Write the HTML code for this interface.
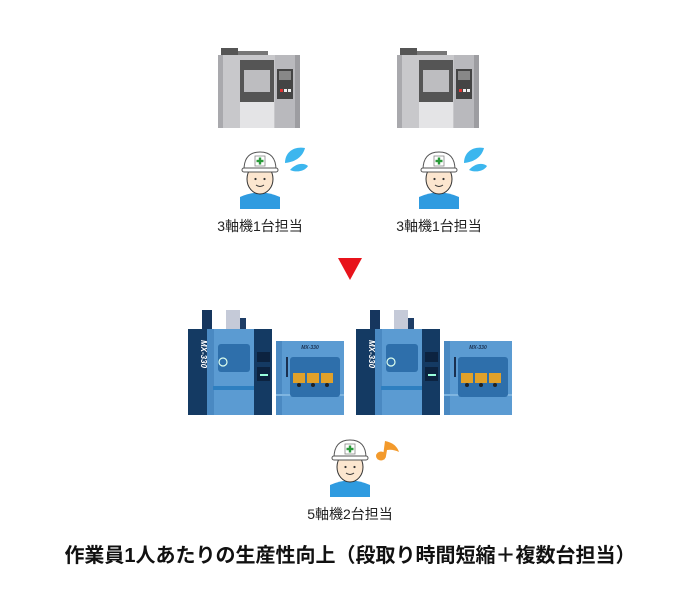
<!DOCTYPE html>
<html><head><meta charset="utf-8"><style>
body{margin:0;background:#fff;width:700px;height:600px;overflow:hidden}
svg{display:block}
text{font-family:"Liberation Sans","Noto Sans CJK JP",sans-serif}
</style></head><body>
<svg width="700" height="600" viewBox="0 0 700 600">
<defs>
<g id="gm">
  <rect x="3" y="0" width="17" height="8" fill="#555"/>
  <rect x="20" y="3" width="30" height="5" fill="#777"/>
  <rect x="0" y="7" width="82" height="73" fill="#c8c8cb"/>
  <rect x="0" y="7" width="5" height="73" fill="#a9a9ad"/>
  <rect x="22" y="12" width="34" height="42" fill="#555"/>
  <rect x="26" y="22" width="26" height="22" fill="#bdbdc0"/>
  <rect x="22" y="54" width="34" height="26" fill="#e4e4e6"/>
  <rect x="57" y="7" width="25" height="73" fill="#b9b9bd"/>
  <rect x="77" y="7" width="5" height="73" fill="#9d9da1"/>
  <rect x="59" y="21" width="16" height="30" fill="#444"/>
  <rect x="61" y="23" width="12" height="9" fill="#888"/>
  <rect x="62" y="41" width="3" height="3" fill="#d33"/>
  <rect x="66" y="41" width="3" height="3" fill="#eee"/>
  <rect x="70" y="41" width="3" height="3" fill="#eee"/>
</g>
<g id="pp">
  <path d="M-20 45 Q0 36 20 45 L20 57 L-20 57 Z" fill="#2f9be0"/>
  <ellipse cx="0" cy="27" rx="13" ry="15" fill="#fce6cf" stroke="#333" stroke-width="1"/>
  <path d="M-16 18 Q-16 0 0 0 Q16 0 16 18 Z" fill="#fff" stroke="#555" stroke-width="1"/>
  <rect x="-18" y="16" width="36" height="4" rx="2" fill="#fff" stroke="#555" stroke-width="1"/>
  <rect x="-5" y="4" width="10" height="10" fill="#fff" stroke="#888" stroke-width="0.8"/>
  <rect x="-1.2" y="5.5" width="2.4" height="7" fill="#2a9a3a"/>
  <rect x="-3.5" y="7.8" width="7" height="2.4" fill="#2a9a3a"/>
  <circle cx="-4.5" cy="27" r="1.1" fill="#333"/><circle cx="4.5" cy="27" r="1.1" fill="#333"/>
  <path d="M-4 33 Q0 36 4 33" fill="none" stroke="#333" stroke-width="1"/>
</g>
<g id="bm">
  <rect x="14" y="0" width="10" height="19" fill="#16365e"/>
  <rect x="38" y="0" width="14" height="19" fill="#c5cad8"/>
  <rect x="52" y="8" width="6" height="11" fill="#1e3d66"/>
  <rect x="0" y="19" width="84" height="86" fill="#5b9bd2"/>
  <rect x="0" y="19" width="19" height="86" fill="#143a63"/>
  <rect x="19" y="19" width="7" height="86" fill="#4a89c2"/>
  <rect x="66" y="19" width="18" height="86" fill="#143a63"/>
  <rect x="30" y="34" width="32" height="28" rx="3" fill="#2e6fab"/>
  <rect x="25" y="76" width="41" height="4" fill="#2e7fc0"/>
  <circle cx="35" cy="52" r="4" fill="none" stroke="#dfe" stroke-width="1.2"/>
  <rect x="69" y="42" width="13" height="10" fill="#0c2340"/>
  <rect x="69" y="57" width="13" height="14" fill="#0c2340"/>
  <rect x="72" y="64" width="8" height="2" fill="#9fd"/>
  <text x="0" y="0" transform="translate(13 30) rotate(90)" font-size="8" font-weight="bold" fill="#fff" font-style="italic">MX-330</text>
  <rect x="88" y="31" width="68" height="74" fill="#5b9bd2"/>
  <rect x="88" y="31" width="6" height="74" fill="#4a89c2"/>
  <rect x="88" y="84" width="68" height="2" fill="#7fb5e0"/>
  <rect x="102" y="47" width="50" height="40" rx="3" fill="#2e6fab"/>
  <rect x="105" y="63" width="12" height="10" fill="#e0a12a"/>
  <rect x="119" y="63" width="12" height="10" fill="#e0a12a"/>
  <rect x="133" y="63" width="12" height="10" fill="#e0a12a"/>
  <circle cx="111" cy="75" r="2" fill="#222"/><circle cx="125" cy="75" r="2" fill="#222"/><circle cx="139" cy="75" r="2" fill="#222"/>
  <rect x="98" y="47" width="2" height="20" fill="#1a3050"/>
  <text x="122" y="39" font-size="5" font-weight="bold" fill="#1a3050" text-anchor="middle" font-style="italic">MX-330</text>
</g>
</defs>

<use href="#gm" x="218" y="48"/>
<use href="#gm" x="397" y="48"/>
<use href="#pp" x="260" y="152"/>
<use href="#pp" x="439" y="152"/>
<g fill="#3cb6ee">
  <path d="M285 163 C285 152 294 146 305 148 C303 156 296 162 285 163 Z"/>
  <path d="M290 170 C295 164 303 162 308 166 C305 171 297 173 290 170 Z"/>
  <path d="M464 163 C464 152 473 146 484 148 C482 156 475 162 464 163 Z"/>
  <path d="M469 170 C474 164 482 162 487 166 C484 171 476 173 469 170 Z"/>
</g>
<text x="260" y="231" font-size="14" text-anchor="middle" fill="#222">3軸機1台担当</text>
<text x="439" y="231" font-size="14" text-anchor="middle" fill="#222">3軸機1台担当</text>

<polygon points="338,258 362,258 350,280" fill="#e8131b"/>

<use href="#bm" x="188" y="310"/>
<use href="#bm" x="356" y="310"/>
<use href="#pp" x="350" y="440"/>
<g fill="#f39a2c">
  <ellipse cx="381" cy="456" rx="5" ry="4.5"/>
  <path d="M383 456 L385 441 Q396 443 399 452 Q393 449 387 450 L386 456 Z"/>
</g>
<text x="350" y="519" font-size="14" text-anchor="middle" fill="#222">5軸機2台担当</text>

<text x="350" y="562" font-size="20" font-weight="bold" text-anchor="middle" fill="#111">作業員1人あたりの生産性向上（段取り時間短縮＋複数台担当）</text>
</svg>
</body></html>
